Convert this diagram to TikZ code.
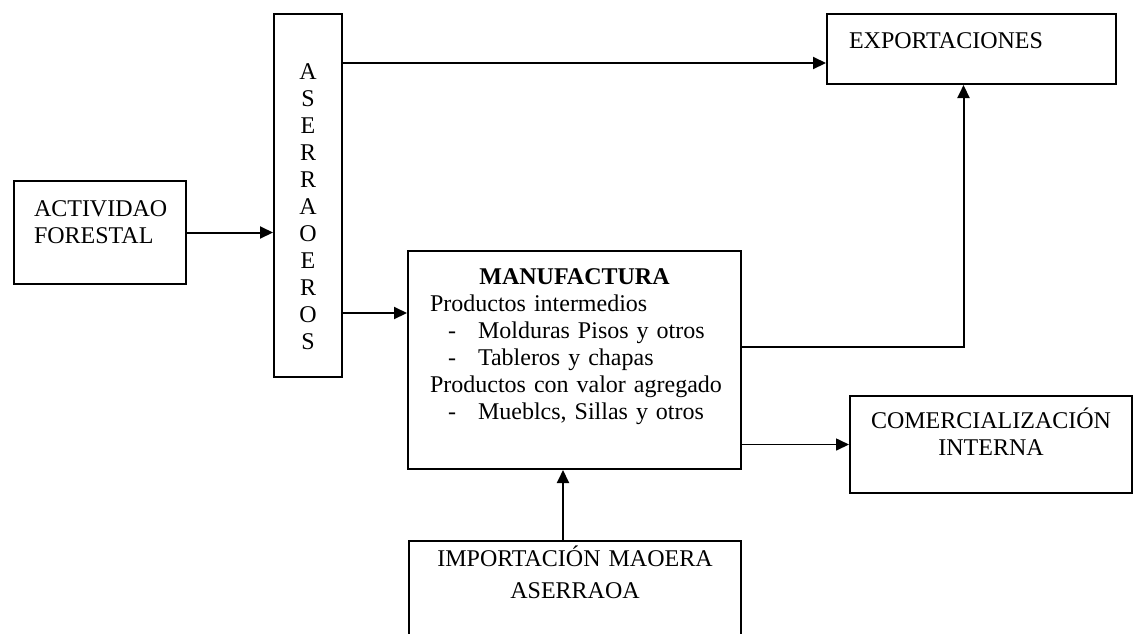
\documentclass[tikz,border=0pt]{standalone}
\usepackage{fontspec}
\setmainfont{Liberation Serif}
\usetikzlibrary{arrows.meta}
\newcommand{\guion}{\hspace*{9pt}\makebox[15pt][l]{-}}

\begin{document}
\begin{tikzpicture}[x=0.5pt, y=-0.5pt, font=\fontsize{12}{13.5}\selectfont,
  caja/.style={draw, line width=1pt, anchor=north west, inner ysep=0pt},
  flecha/.style={-{Triangle[length=6.5pt,width=6pt]}, line width=1pt}]
  \useasboundingbox (0,0) rectangle (1133,633);
  \clip (0,0) rectangle (1133,633);
  % Cadena de la madera
  \node[caja, align=left, inner xsep=10pt, text width=66pt, text height=17.5pt, text depth=34pt] (forestal) at (13,180) {ACTIVIDAO\\FORESTAL};
  \node[caja, align=center, inner xsep=0pt, text width=34pt, text height=32.5pt, text depth=149pt] (aserraderos) at (273,13) {A\\S\\E\\R\\R\\A\\O\\E\\R\\O\\S};
  \node[caja, align=left, inner xsep=11pt, text width=122.5pt, text height=17pt, text depth=18pt] (exportaciones) at (826,13) {EXPORTACIONES};
  \node[caja, align=left, inner xsep=11pt, text width=144.5pt, text height=16.5pt, text depth=92.5pt] (manufactura) at (407,250)
    {\makebox[\hsize]{\textbf{MANUFACTURA}}\\
     Productos intermedios\\
     \guion Molduras Pisos y otros\\
     \guion Tableros y chapas\\
     \mbox{Productos con valor agregado}\\
     \guion Mueblcs, Sillas y otros};
  \node[caja, align=center, inner xsep=0pt, text width=141pt, text height=16pt, text depth=32.5pt] (comercializacion) at (849,395) {COMERCIALIZACIÓN\\INTERNA};
  \node[caja, align=center, inner xsep=0pt, text width=166pt, text height=12.5pt, text depth=60pt] (importacion) at (408,540) {IMPORTACIÓN MAOERA\\[2.5pt]ASERRAOA};

  \draw[flecha] (forestal.east) -- (forestal.east -| aserraderos.west);
  \draw[flecha] ([yshift=-7pt]aserraderos.east |- exportaciones.west) -- ([yshift=-7pt]exportaciones.west);
  \draw[flecha] ([yshift=23.5pt]aserraderos.east |- manufactura.west) -- ([yshift=23.5pt]manufactura.west);
  \draw[flecha] ([yshift=6.5pt]manufactura.east) -| ([xshift=-4pt]exportaciones.south);
  \draw[flecha, line width=0.8pt] (manufactura.east |- comercializacion.west) -- (comercializacion.west);
  \draw[flecha] ([xshift=-6pt]importacion.north) -- ([xshift=-6pt]importacion.north |- manufactura.south);
\end{tikzpicture}
\end{document}
